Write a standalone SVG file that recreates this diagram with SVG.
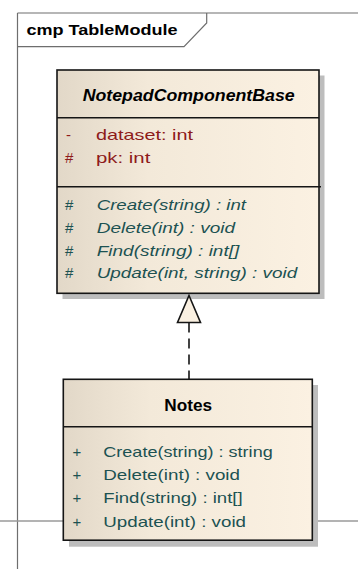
<svg xmlns="http://www.w3.org/2000/svg" width="358" height="569" viewBox="0 0 358 569">
<defs>
<linearGradient id="fill" x1="0" y1="0" x2="1" y2="0">
<stop offset="0" stop-color="#E2D8C8"/>
<stop offset="0.35" stop-color="#F3E9D9"/>
<stop offset="1" stop-color="#FBF1E2"/>
</linearGradient>
<style>
.box{fill:url(#fill);stroke:#151515;stroke-width:1.6}
.shadow{fill:#BDBDBD}
.div{stroke:#151515;stroke-width:1.6}
.frame{stroke:#6E6E6E;stroke-width:1.2;fill:none}
.name{font-family:"Liberation Sans",Arial,sans-serif;font-weight:bold;font-size:16px;fill:#000}
.attr{font-family:"Liberation Sans",Arial,sans-serif;font-size:15px;fill:#8E1B1B}
.op{font-family:"Liberation Sans",Arial,sans-serif;font-size:15px;fill:#1C5252}
.it{font-style:italic}
</style>
</defs>
<rect width="358" height="569" fill="#FFFFFF"/>
<g id="frame">
<line class="frame" x1="17.5" y1="13" x2="358" y2="13"/>
<line class="frame" x1="17.5" y1="13" x2="17.5" y2="569" stroke="#777"/>
<path class="frame" d="M17.5 46.7 H184 L206.7 23 V13" stroke="#555"/>
<text x="26.5" y="34.7" font-family="Liberation Sans,Arial,sans-serif" font-weight="bold" font-size="15" textLength="151" lengthAdjust="spacingAndGlyphs">cmp TableModule</text>
<line x1="0" y1="521" x2="358" y2="521" stroke="#9A9A9A" stroke-width="1.4"/>
</g>
<g id="NotepadComponentBase">
<rect class="shadow" x="62.5" y="75.5" width="262" height="223.5"/>
<rect class="box" x="57" y="70" width="262" height="223.3"/>
<line class="div" x1="57" y1="117.7" x2="319" y2="117.7"/>
<line class="div" x1="57" y1="186.7" x2="321" y2="186.7"/>
<text class="name it" x="82.7" y="101" textLength="212" lengthAdjust="spacingAndGlyphs">NotepadComponentBase</text>
<text class="attr" x="66" y="140">-</text>
<text class="attr" x="96" y="140" textLength="97" lengthAdjust="spacingAndGlyphs">dataset:  int</text>
<text class="attr" x="65" y="163.3">#</text>
<text class="attr" x="96" y="163.3" textLength="54.3" lengthAdjust="spacingAndGlyphs">pk:  int</text>
<text class="op" x="65" y="210">#</text>
<text class="op it" x="96.7" y="210" textLength="149.3" lengthAdjust="spacingAndGlyphs">Create(string) : int</text>
<text class="op" x="65" y="232.7">#</text>
<text class="op it" x="96.7" y="232.7" textLength="138.3" lengthAdjust="spacingAndGlyphs">Delete(int) : void</text>
<text class="op" x="65" y="255.5">#</text>
<text class="op it" x="96.7" y="255.5" textLength="142.6" lengthAdjust="spacingAndGlyphs">Find(string) : int[]</text>
<text class="op" x="65" y="278.3">#</text>
<text class="op it" x="96.7" y="278.3" textLength="200.6" lengthAdjust="spacingAndGlyphs">Update(int, string) : void</text>
</g>
<g id="Notes">
<rect class="shadow" x="69" y="385" width="249" height="161.7"/>
<rect class="box" x="63.3" y="379.3" width="249" height="160.9"/>
<line class="div" x1="63.3" y1="426.7" x2="312.3" y2="426.7"/>
<text class="name" x="164.3" y="410.7" textLength="47.7" lengthAdjust="spacingAndGlyphs">Notes</text>
<text class="op" x="72.5" y="457.3">+</text>
<text class="op" x="103.3" y="457.3" textLength="169.4" lengthAdjust="spacingAndGlyphs">Create(string) : string</text>
<text class="op" x="72.5" y="480">+</text>
<text class="op" x="103.3" y="480" textLength="136.7" lengthAdjust="spacingAndGlyphs">Delete(int) : void</text>
<text class="op" x="72.5" y="503.3">+</text>
<text class="op" x="103.3" y="503.3" textLength="139.4" lengthAdjust="spacingAndGlyphs">Find(string) : int[]</text>
<text class="op" x="72.5" y="526.7">+</text>
<text class="op" x="103.3" y="526.7" textLength="142.7" lengthAdjust="spacingAndGlyphs">Update(int) : void</text>
</g>
<g id="connectors">
<line x1="189" y1="322.5" x2="189" y2="379.3" stroke="#151515" stroke-width="1.6" stroke-dasharray="10,6"/>
<polygon points="189,295.5 200.5,322.5 177.5,322.5" fill="#FAF0E1" stroke="#151515" stroke-width="1.6" stroke-linejoin="miter"/>
</g>
</svg>
